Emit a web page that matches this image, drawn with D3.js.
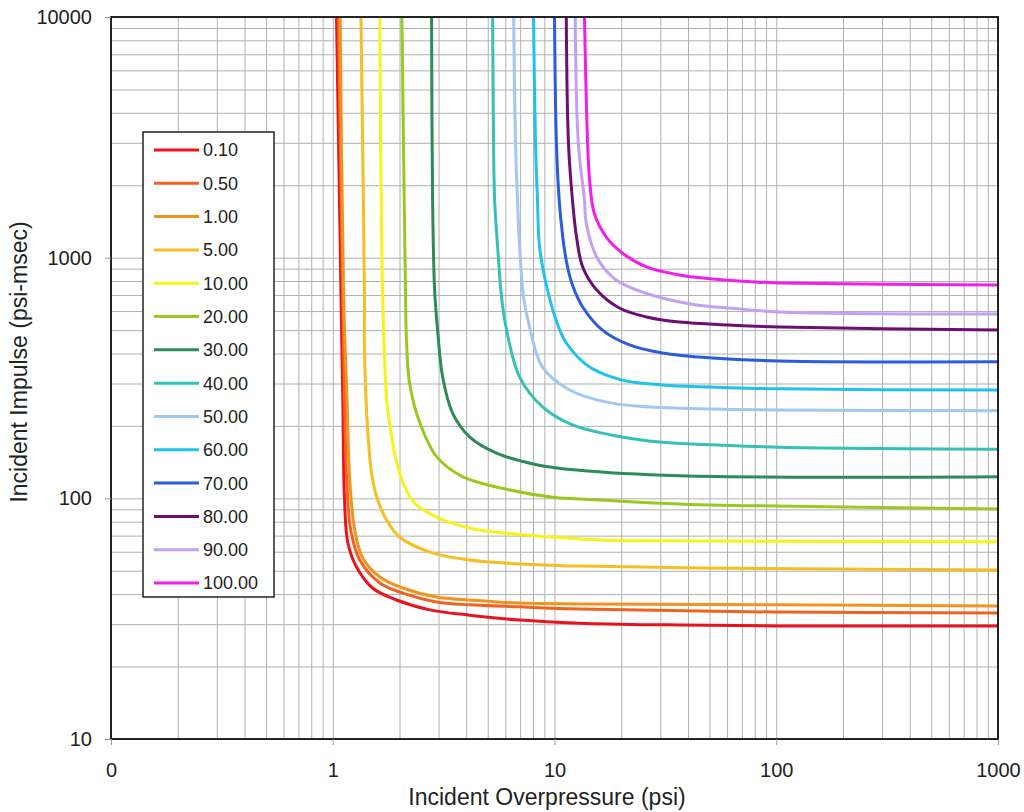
<!DOCTYPE html>
<html>
<head>
<meta charset="utf-8">
<script src="https://cdn.jsdelivr.net/npm/d3@7/dist/d3.min.js"></script>
<style>
  html, body { margin: 0; padding: 0; background: #fff; }
  svg { display: block; }
  text { font-family: "Liberation Sans", Arial, sans-serif; fill: #222; }
</style>
</head>
<body>
<svg id="chart" width="1024" height="812"></svg>
<script>
// ---- Data ----
const seriesNames = ["0.10","0.50","1.00","5.00","10.00","20.00","30.00","40.00","50.00","60.00","70.00","80.00","90.00","100.00"];

const p_0_10 = [1.04,1.09,1.11,1.13,1.17,1.28,1.51,1.94,2.74,4.14,6.96,13.0,31.9,100,1000];
const i_0_10 = [10000,686,256,98.4,65.2,51.8,42.4,37.8,34.4,32.7,31.2,30.3,29.8,29.5,29.5];

const p_0_50 = [1.06,1.11,1.13,1.156,1.205,1.323,1.63,2.07,2.94,4.14,6.96,13.0,100,1000];
const i_0_50 = [10000,686,256,119,73.9,55.4,44.5,40.4,37.1,36.1,35.4,34.7,33.7,33.4];

const p_1_00 = [1.08,1.12,1.16,1.193,1.256,1.365,1.63,2.07,2.94,4.14,6.96,13.0,100,1000];
const i_1_00 = [10000,686,256,119,73.9,56.5,47.1,42.4,38.9,37.8,36.7,36.4,36.1,35.7];

const p_5_00 = [1.34,1.39,1.39,1.44,1.50,1.595,1.77,2.0,2.74,4.14,6.96,13.0,45,1000];
const i_5_00 = [10000,686,413,187,125,98.4,79.8,69.1,59.8,55.4,53.4,52.3,51.3,50.4];

const p_10_00 = [1.63,1.68,1.75,1.81,1.92,2.09,2.34,2.94,4.14,5.83,9.8,15.9,45,1000];
const i_10_00 = [10000,686,256,202,147,114,95.6,83.6,75.3,71.8,69.1,67.1,66.5,66];

const p_20_00 = [2.05,2.13,2.15,2.22,2.47,2.94,3.85,5.83,9.8,13.0,45,100,1000];
const i_20_00 = [10000,686,455,301,206,149,123,110,101,99.4,94,92.9,90.3];

const p_30_00 = [2.79,2.82,2.88,2.97,3.13,3.47,4.14,5.48,8.3,12.6,36.6,1000];
const i_30_00 = [10000,1736,734,501,319,226,180,154,138,131,124,123];

const p_40_00 = [5.26,5.31,5.37,5.54,5.77,6.08,6.96,8.83,12.05,18.25,30.6,51.5,103,1000];
const i_40_00 = [10000,2996,1736,1108,686,500,319,240,202,183,171,167,163,160];

const p_50_00 = [6.54,6.67,6.81,6.96,7.25,7.65,8.83,11.7,17.2,26,51.5,103,1000];
const i_50_00 = [10000,2996,1736,1108,686,535,351,282,251,240,235,233,231];

const p_60_00 = [8.04,8.21,8.38,8.56,9.3,10.35,11.3,14.4,20.2,30.6,51.5,103,1000];
const i_60_00 = [10000,2996,1736,1108,734,525,442,351,310,296,290,285,282];

const p_70_00 = [10.0,10.2,10.5,10.87,11.33,12.05,13.4,16.45,21.8,30.6,51.5,103,1000];
const i_70_00 = [10000,2996,1736,1243,960,770,624,500,434,402,383,372,369];

const p_80_00 = [11.3,11.56,12.05,12.57,13.4,15.5,19.6,26,36.6,61.4,103,1000];
const i_80_00 = [10000,2996,1736,1219,915,734,618,567,540,525,515,500];

const p_90_00 = [12.4,12.8,13.65,13.9,15.5,18.25,21.8,30.6,43.6,61.4,103,1000];
const i_90_00 = [10000,2996,1736,1393,1006,831,755,680,636,618,595,583];

const p_100_00 = [13.65,14.1,14.4,15.1,17.1,20.2,26,36.6,51.5,81.3,103,1000];
const i_100_00 = [10000,2996,2102,1533,1219,1046,915,847,815,792,785,770];

const xTickValues = [0.1, 1, 10, 100, 1000];
const xTickLabels = ["0", "1", "10", "100", "1000"];
const yTickValues = [10, 100, 1000, 10000];
const yTickLabels = ["10", "100", "1000", "10000"];

const xTitle = "Incident Overpressure (psi)";
const yTitle = "Incident Impulse (psi-msec)";

// ---- Styles ----
const seriesColors = ["#e8141c","#f2621f","#f3931f","#f5bf22","#f7f21c","#9bc81f","#2f8a5a","#35c0b6",
                      "#a0c8f2","#1fc2ea","#2b5be0","#6b0f70","#c3a0f2","#f21fe8"];

const seriesP = [p_0_10,p_0_50,p_1_00,p_5_00,p_10_00,p_20_00,p_30_00,p_40_00,p_50_00,p_60_00,p_70_00,p_80_00,p_90_00,p_100_00];
const seriesI = [i_0_10,i_0_50,i_1_00,i_5_00,i_10_00,i_20_00,i_30_00,i_40_00,i_50_00,i_60_00,i_70_00,i_80_00,i_90_00,i_100_00];

// ---- Layout ----
const L = 111, R = 998, T = 17, B = 739;
const svg = d3.select("#chart");

const x = d3.scaleLog().domain([0.1, 1000]).range([L, R]);
const y = d3.scaleLog().domain([10, 10000]).range([B, T]);

// grid values (1..9 x each decade)
const gridX = [];
for (let e = -1; e < 3; e++) for (let k = 1; k <= 9; k++) gridX.push(k * Math.pow(10, e));
gridX.push(1000);
const gridY = [];
for (let e = 1; e < 4; e++) for (let k = 1; k <= 9; k++) gridY.push(k * Math.pow(10, e));
gridY.push(10000);

const gx = svg.append("g").attr("transform", `translate(0,${B})`)
  .call(d3.axisBottom(x).tickValues(gridX).tickSize(-(B - T)).tickFormat(""));
gx.select(".domain").remove();
gx.selectAll("line").attr("stroke", "#b0b0b0").attr("stroke-width", 1);

const gy = svg.append("g").attr("transform", `translate(${L},0)`)
  .call(d3.axisLeft(y).tickValues(gridY).tickSize(-(R - L)).tickFormat(""));
gy.select(".domain").remove();
gy.selectAll("line").attr("stroke", "#b0b0b0").attr("stroke-width", 1);

// clip
svg.append("defs").append("clipPath").attr("id", "clip")
  .append("rect").attr("x", L).attr("y", T).attr("width", R - L).attr("height", B - T);

// lines
const line = d3.line()
  .x(d => x(d[0])).y(d => y(d[1]))
  .curve(d3.curveCatmullRom.alpha(0.5));

const lines = svg.append("g").attr("clip-path", "url(#clip)");
seriesNames.forEach((name, s) => {
  const pts = seriesP[s].map((p, j) => [p, seriesI[s][j]]);
  lines.append("path")
    .datum(pts)
    .attr("d", line)
    .attr("fill", "none")
    .attr("stroke", seriesColors[s])
    .attr("stroke-width", 3)
    .attr("stroke-linejoin", "round");
});

// frame
svg.append("rect").attr("x", L).attr("y", T).attr("width", R - L).attr("height", B - T)
  .attr("fill", "none").attr("stroke", "#111").attr("stroke-width", 1.8);

// major axes with labels
const ax = svg.append("g").attr("transform", `translate(0,${B})`)
  .call(d3.axisBottom(x).tickValues(xTickValues).tickSize(6).tickPadding(18)
    .tickFormat((d, i) => xTickLabels[i]));
ax.select(".domain").remove();
ax.selectAll("line").attr("stroke", "#999");
ax.selectAll("text").attr("font-size", 20).attr("font-family", "Liberation Sans, Arial, sans-serif").attr("fill", "#222");

const ay = svg.append("g").attr("transform", `translate(${L},0)`)
  .call(d3.axisLeft(y).tickValues(yTickValues).tickSize(6).tickPadding(13)
    .tickFormat((d, i) => yTickLabels[i]));
ay.select(".domain").remove();
ay.selectAll("line").attr("stroke", "#999");
ay.selectAll("text").attr("font-size", 20).attr("font-family", "Liberation Sans, Arial, sans-serif").attr("fill", "#222");

// titles
svg.append("text").attr("x", 547).attr("y", 805).attr("text-anchor", "middle")
  .attr("font-size", 23).text(xTitle);
svg.append("text").attr("transform", "translate(27,362) rotate(-90)").attr("text-anchor", "middle")
  .attr("font-size", 23).text(yTitle);

// legend
const lg = svg.append("g");
lg.append("rect").attr("x", 143).attr("y", 132).attr("width", 131).attr("height", 465)
  .attr("fill", "#fff").attr("stroke", "#222").attr("stroke-width", 1.5);
const ly = d3.scalePoint().domain(seriesNames).range([150, 583]);
seriesNames.forEach((name, s) => {
  const yy = ly(name);
  lg.append("line").attr("x1", 154).attr("x2", 199).attr("y1", yy).attr("y2", yy)
    .attr("stroke", seriesColors[s]).attr("stroke-width", 3);
  lg.append("text").attr("x", 203).attr("y", yy).attr("dy", "0.36em")
    .attr("font-size", 18).text(name);
});
</script>
</body>
</html>
